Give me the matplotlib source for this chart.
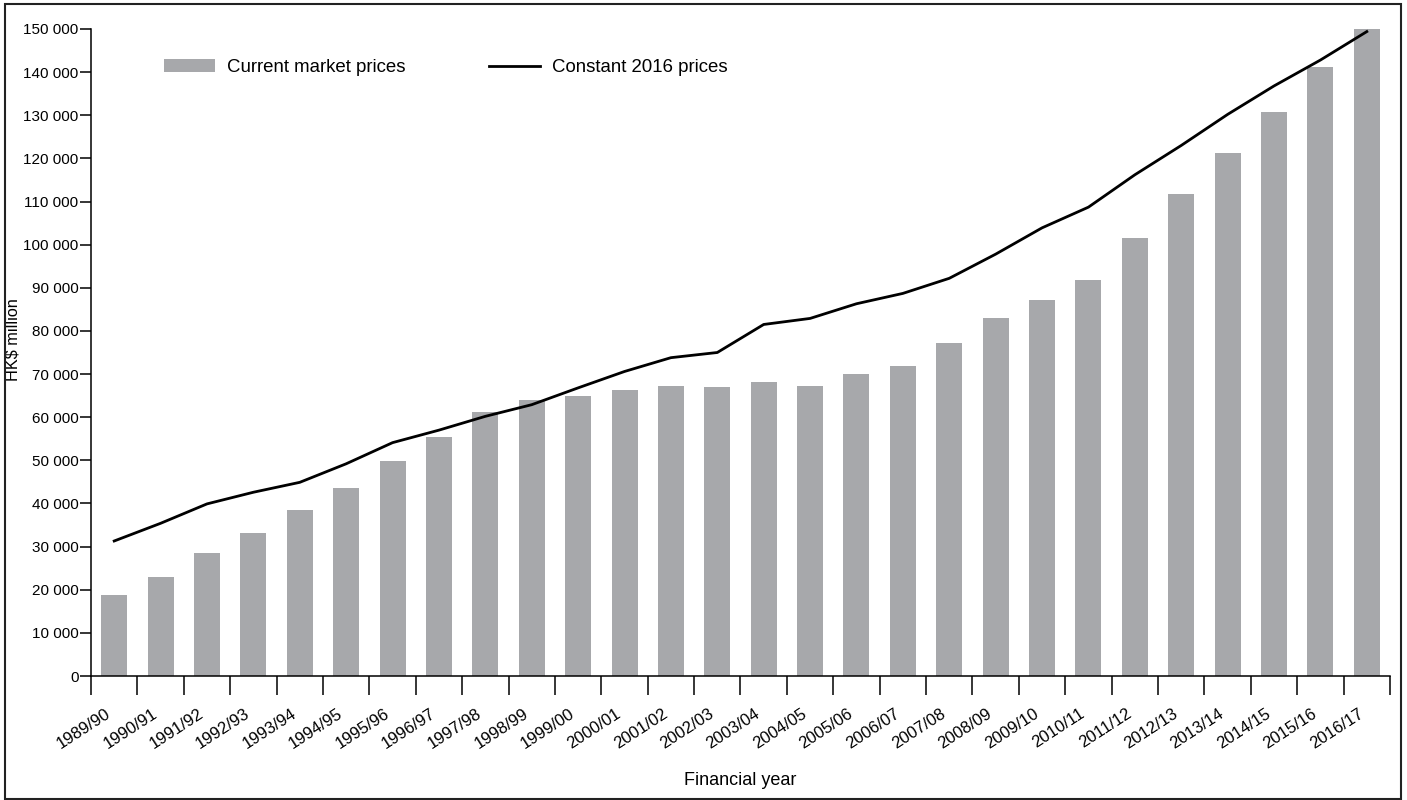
import numpy as np
import matplotlib
matplotlib.use("Agg")
import matplotlib.pyplot as plt
import matplotlib.transforms as mtransforms
from matplotlib.patches import Rectangle
from matplotlib.ticker import FuncFormatter, MultipleLocator

plt.rcParams['font.family'] = ['Liberation Sans', 'DejaVu Sans']

years = ['1989/90', '1990/91', '1991/92', '1992/93', '1993/94', '1994/95',
         '1995/96', '1996/97', '1997/98', '1998/99', '1999/00', '2000/01',
         '2001/02', '2002/03', '2003/04', '2004/05', '2005/06', '2006/07',
         '2007/08', '2008/09', '2009/10', '2010/11', '2011/12', '2012/13',
         '2013/14', '2014/15', '2015/16', '2016/17']

# HK$ million
current_prices = [18800, 23000, 28600, 33200, 38400, 43500, 49900, 55400,
                  61300, 64100, 64800, 66300, 67200, 67100, 68100, 67300,
                  70000, 71900, 77200, 83100, 87200, 91800, 101600, 111800,
                  121300, 130800, 141200, 150200]

constant_2016 = [31300, 35400, 39900, 42600, 44900, 49200, 54100, 57000,
                 60200, 62900, 66800, 70600, 73800, 75000, 81500, 82900,
                 86300, 88700, 92200, 97800, 103900, 108700, 116200, 123000,
                 130200, 136800, 142800, 149400]

fig = plt.figure(figsize=(14.07, 8.0), dpi=100)
ax = fig.add_axes([91 / 1407, 1 - 676 / 800, (1390 - 91) / 1407, (676 - 29) / 800])

x = np.arange(len(years))
bars = ax.bar(x, current_prices, width=0.56, color='#a7a8ab',
              label='Current market prices', zorder=2)
line, = ax.plot(x, constant_2016, color='black', linewidth=2.0,
                label='Constant 2016 prices', zorder=3)

ax.set_xlim(-0.5, len(years) - 0.5)
ax.set_ylim(0, 150000)

for s in ['top', 'right']:
    ax.spines[s].set_visible(False)
for s in ['left', 'bottom']:
    ax.spines[s].set_linewidth(1.1)

# y axis
ax.yaxis.set_major_locator(MultipleLocator(10000))
ax.yaxis.set_major_formatter(FuncFormatter(lambda v, p: f'{int(v):,}'.replace(',', ' ')))
ax.tick_params(axis='y', direction='out', length=8, width=1.1, pad=1, labelsize=11)

# x axis: tick marks at category boundaries, labels at centres
ax.set_xticks(np.arange(-0.5, len(years), 1.0))
ax.set_xticklabels([])
ax.tick_params(axis='x', which='major', direction='out', length=14, width=1.1)
ax.set_xticks(x, minor=True)
ax.set_xticklabels(years, minor=True, rotation=33, ha='right',
                   rotation_mode='anchor', fontsize=12)
ax.tick_params(axis='x', which='minor', length=0, pad=26)
offset = mtransforms.ScaledTranslation(-0.05, 0, fig.dpi_scale_trans)
for lab in ax.get_xticklabels(minor=True):
    lab.set_verticalalignment('center')
    lab.set_transform(lab.get_transform() + offset)

ax.set_xlabel('Financial year', fontsize=13)
ax.xaxis.set_label_coords(0.5, -0.149)
ax.set_ylabel('HK$ million', fontsize=11.7)
ax.yaxis.set_label_coords(-0.054, 0.52)

ax.legend(handles=[bars, line], loc='upper left', ncol=2, frameon=False,
          fontsize=13.4, handlelength=2.74, handleheight=0.7,
          handletextpad=0.65, columnspacing=4.5,
          bbox_to_anchor=(0.0431, 0.9795))

# border around the whole figure
fig.patches.append(Rectangle((5 / 1407, 1 / 800), 1396 / 1407, 795 / 800,
                             transform=fig.transFigure, fill=False,
                             edgecolor='#222222', linewidth=1.5))

fig.savefig('out.png', dpi=100)
